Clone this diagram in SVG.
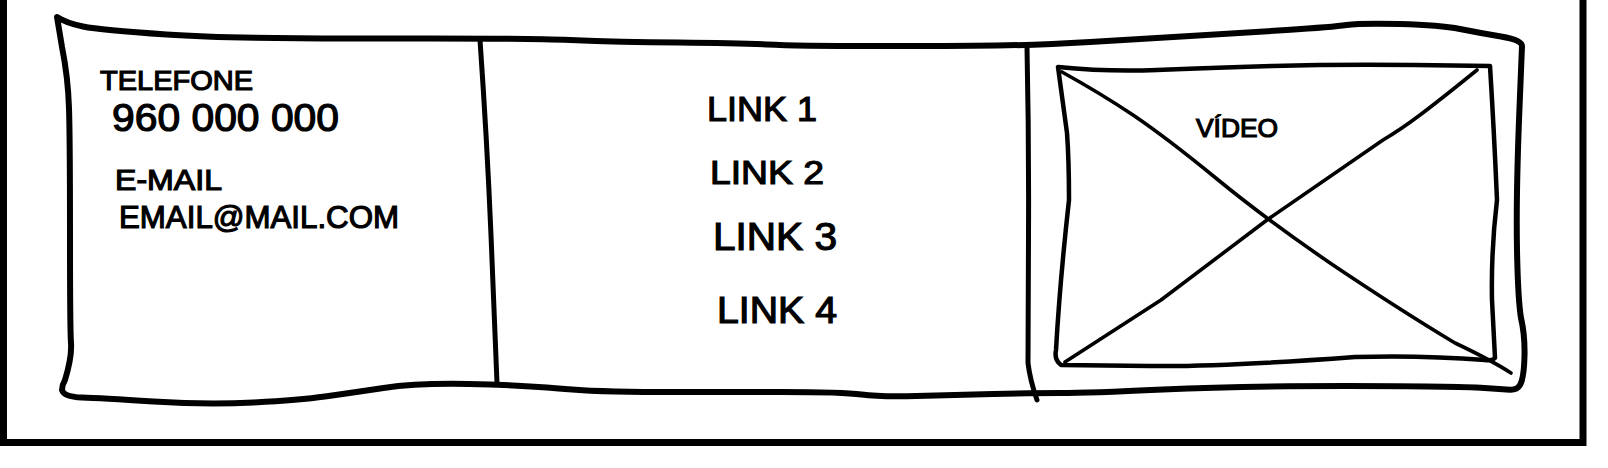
<svg xmlns="http://www.w3.org/2000/svg" width="1608" height="468" viewBox="0 0 1608 468">
  <style>
    .ink { fill: none; stroke: #000; stroke-linecap: round; stroke-linejoin: round; }
    .frame { stroke-width: 7; stroke-linecap: butt; stroke-linejoin: miter; }
    .box { stroke-width: 6; }
    .div { stroke-width: 5; }
    .vbox { stroke-width: 4.5; }
    .diag { stroke-width: 3.6; }
    .t { font-family: "Liberation Sans", Arial, sans-serif; fill: #000; stroke: #000; stroke-width: 1.2; }
  </style>
  <rect width="1608" height="468" fill="#fff"/>

  <g id="frame">
    <path class="ink frame" d="M3.5 -10 V442.5 H1583 V-10"/>
  </g>

  <g id="main-box">
    <path class="ink box" d="M57 17 Q66 23 83 26.5 Q100 30 166.5 34.5 Q233 39 376.5 38.5 Q520 38 570 40 Q620 42 678.5 42.5 Q737 43 767 44.5 Q797 46 875 46 Q953 46 996.5 45.5 Q1040 45 1090 42 Q1140 39 1190 36 Q1240 33 1286.5 30 Q1333 27 1346.5 25 Q1360 23 1400 24 Q1440 25 1460 29 Q1480 33 1501 36.5 Q1522 40 1522 46 L1519 120 Q1516 200 1517 250 Q1518 300 1521 318 Q1525 335 1524.5 356 Q1524 378 1520 385 Q1517 390 1510 389.7 L1484.5 388 Q1455 386 1346.5 386 Q1238 386 1163 389.5 Q1088 393 1060.5 393 Q1033 393 993 394 Q953 395 916.5 396 Q880 397 861.5 394.5 Q843 392 781.5 392 Q720 392 658.5 392 Q597 392 558.5 388.5 Q520 385 468.5 384 Q417 383 383.5 388 Q350 393 325 396.5 Q300 400 253.5 402.5 Q207 405 153.5 401.5 Q100 398 82 397.5 Q64 397 62 390 Q62 385 65 380 Q72 357 71 343 Q70 330 70 235 Q70 140 69 108 Q68 77 62 47 Z"/>
  </g>

  <g id="dividers">
    <path class="ink div" d="M480 40 Q487 140 491 235 Q495 330 497 383"/>
    <path class="ink div" d="M1027 47 Q1029 140 1028.5 235 L1028 363 Q1030 380 1037 400"/>
  </g>

  <g id="contact">
    <text class="t" x="100" y="90" font-size="28" textLength="153" lengthAdjust="spacingAndGlyphs">TELEFONE</text>
    <text class="t" x="112" y="131" font-size="38" textLength="227" lengthAdjust="spacingAndGlyphs">960 000 000</text>
    <text class="t" x="115" y="190" font-size="29" textLength="107" lengthAdjust="spacingAndGlyphs">E-MAIL</text>
    <text class="t" x="119" y="228" font-size="31" textLength="280" lengthAdjust="spacingAndGlyphs">EMAIL@MAIL.COM</text>
  </g>

  <g id="links">
    <text class="t" x="707" y="121" font-size="35" textLength="110" lengthAdjust="spacingAndGlyphs">LINK 1</text>
    <text class="t" x="710" y="184" font-size="34" textLength="114" lengthAdjust="spacingAndGlyphs">LINK 2</text>
    <text class="t" x="713" y="250" font-size="38" textLength="124" lengthAdjust="spacingAndGlyphs">LINK 3</text>
    <text class="t" x="717" y="323" font-size="37" textLength="120" lengthAdjust="spacingAndGlyphs">LINK 4</text>
  </g>

  <g id="video">
    <path class="ink vbox" d="M1058 67 Q1107 72 1157 70 Q1207 68 1273 66 Q1340 64 1415 65 L1490 66 Q1494 130 1497 200 Q1491 250 1492 300 L1495 358 Q1492 361 1485 360 Q1421 355 1355 357 Q1221 367 1150 366 L1061 365 Q1054 360 1056 350 Q1060 280 1069 200 Q1069 160 1067 133 Z"/>
    <path class="ink diag" d="M1062 72 Q1100 93 1133 115 Q1167 138 1217 179 Q1267 220 1333 265 Q1400 310 1455 343 Q1491 360 1511 373"/>
    <path class="ink diag" d="M1477 70 Q1440 100 1420 115 Q1400 130 1383 140 L1267 220 L1161 300 Q1088 347 1065 362"/>
    <text class="t" x="1196" y="137" font-size="26" stroke-width="0.8" textLength="82" lengthAdjust="spacingAndGlyphs">VÍDEO</text>
  </g>
</svg>
